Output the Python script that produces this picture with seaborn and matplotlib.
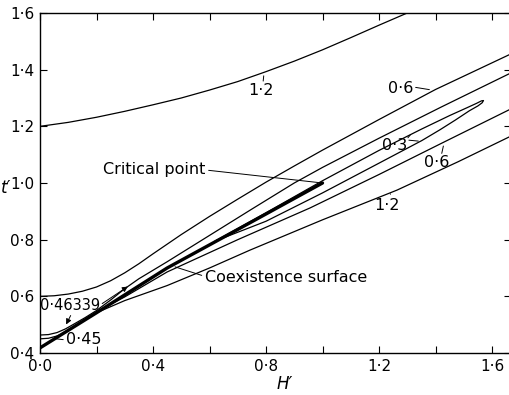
import numpy as np
import pandas as pd
import seaborn as sns
import matplotlib.pyplot as plt

# curves (H', t')
coex_h = [0.0, 0.1, 0.2, 0.45, 0.7, 1.0]
coex_t = [0.418, 0.48, 0.542, 0.70, 0.836, 1.0]

up12_h = [0.0, 0.1, 0.2, 0.3, 0.4, 0.5, 0.6, 0.7, 0.8, 0.9, 1.0, 1.1, 1.2, 1.3]
up12_t = [1.2, 1.214, 1.232, 1.253, 1.276, 1.3, 1.328, 1.358, 1.393, 1.43, 1.47, 1.513, 1.557, 1.6]

up06_h = [0.0, 0.05, 0.1, 0.15, 0.2, 0.25, 0.3, 0.35, 0.4, 0.5, 0.6, 0.7, 0.8, 0.9, 1.0, 1.2, 1.4, 1.67]
up06_t = [0.6, 0.602, 0.608, 0.618, 0.633, 0.655, 0.683, 0.715, 0.75, 0.818, 0.882, 0.943,
          1.003, 1.06, 1.116, 1.224, 1.33, 1.457]

c463_h = [0.0, 0.03, 0.06, 0.09, 0.12, 0.16, 0.2, 0.25, 0.3, 0.35, 0.45, 0.55, 0.65, 0.75,
          0.9, 1.0, 1.2, 1.42, 1.67]
c463_t = [0.4634, 0.465, 0.472, 0.485, 0.502, 0.525, 0.55, 0.587, 0.627, 0.662, 0.722, 0.784,
          0.846, 0.908, 1.0, 1.055, 1.158, 1.268, 1.39]

c045_h = [0.0, 0.03, 0.06, 0.09, 0.12]
c045_t = [0.45, 0.452, 0.46, 0.473, 0.492]

loop_h = [0.62, 0.8, 1.0, 1.2, 1.35, 1.45, 1.51, 1.545, 1.563, 1.57, 1.565, 1.55, 1.52,
          1.47, 1.416, 1.352, 1.2, 1.0, 0.8, 0.62]
loop_t = [0.795, 0.895, 1.008, 1.115, 1.19, 1.238, 1.265, 1.281, 1.29, 1.291, 1.283, 1.272,
          1.255, 1.222, 1.188, 1.15, 1.07, 0.965, 0.865, 0.795]

lo06_h = [0.2, 0.3, 0.45, 0.7, 0.956, 1.2, 1.423, 1.67]
lo06_t = [0.545, 0.598, 0.686, 0.80, 0.912, 1.03, 1.141, 1.263]

lo12_h = [0.2, 0.3, 0.45, 0.6, 0.743, 1.0, 1.264, 1.48, 1.67]
lo12_t = [0.542, 0.585, 0.638, 0.7, 0.763, 0.87, 0.975, 1.075, 1.167]

x_ticks = [0.0, 0.4, 0.8, 1.2, 1.6]
x_labels = ['0·0', '0·4', '0·8', '1·2', '1·6']
y_ticks = [0.4, 0.6, 0.8, 1.0, 1.2, 1.4, 1.6]
y_labels = ['0·4', '0·6', '0·8', '1·0', '1·2', '1·4', '1·6']

sns.set_style("ticks")
plt.rcParams['font.family'] = ['DejaVu Sans']
plt.rcParams['text.color'] = 'k'
plt.rcParams['xtick.color'] = 'k'
plt.rcParams['ytick.color'] = 'k'
plt.rcParams['axes.edgecolor'] = 'k'

fig = plt.figure(figsize=(5.09, 3.95), dpi=100)
ax = fig.add_axes([40 / 509, 1 - 353 / 395, 471 / 509, 340 / 395])

thin = [(up12_h, up12_t), (up06_h, up06_t), (c463_h, c463_t), (c045_h, c045_t),
        (loop_h, loop_t), (lo06_h, lo06_t), (lo12_h, lo12_t)]
for hh, tt in thin:
    sns.lineplot(x=hh, y=tt, sort=False, estimator=None, color='k', lw=0.9, ax=ax)
sns.lineplot(x=coex_h, y=coex_t, sort=False, estimator=None, color='k', lw=2.4, ax=ax)

ax.set_xlim(0, 471 / 282.5)
ax.set_ylim(0.4, 1.6)
ax.set_xticks(x_ticks)
ax.set_xticklabels(x_labels)
ax.set_xticks(np.arange(0.2, 1.61, 0.4), minor=True)
ax.set_yticks(y_ticks)
ax.set_yticklabels(y_labels)
ax.tick_params(which='both', direction='in', top=True, right=True, length=5, width=0.8,
               labelsize=11, pad=4, colors='k')
for s in ax.spines.values():
    s.set_linewidth(1.0)
ax.set_xlabel('')
ax.set_ylabel('')

ax.text(-0.072, 0.485, "t′", transform=ax.transAxes, fontsize=12, style='italic',
        ha='center', va='center')
ax.text(0.52, -0.092, "H′", transform=ax.transAxes, fontsize=12, style='italic',
        ha='center', va='center')

fs = 11.5
plain = dict(arrowstyle='-', color='k', lw=0.7)
head = dict(arrowstyle='-|>', color='k', lw=0.7, mutation_scale=8)

ax.annotate('Critical point', xy=(1.0, 1.0), xytext=(0.223, 1.046), fontsize=fs,
            ha='left', va='center', arrowprops=dict(plain, shrinkA=0, shrinkB=0,
                                                  relpos=(1.0, 0.5)))
ax.annotate('Coexistence surface', xy=(0.478, 0.704), xytext=(0.584, 0.665), fontsize=fs,
            ha='left', va='center', arrowprops=dict(plain, shrinkA=0, shrinkB=0,
                                                  relpos=(0.0, 0.6)))

ax.text(1.278, 1.335, '0·6', fontsize=fs, ha='center', va='center')
ax.annotate('', xy=(1.388, 1.328), xytext=(1.32, 1.339), arrowprops=plain)
ax.text(1.257, 1.134, '0·3', fontsize=fs, ha='center', va='center')
ax.annotate('', xy=(1.317, 1.177), xytext=(1.296, 1.152), arrowprops=plain)
ax.annotate('', xy=(1.349, 1.147), xytext=(1.296, 1.152), arrowprops=plain)
ax.text(1.405, 1.071, '0·6', fontsize=fs, ha='center', va='center')
ax.annotate('', xy=(1.43, 1.14), xytext=(1.42, 1.095), arrowprops=plain)
ax.text(0.782, 1.325, '1·2', fontsize=fs, ha='center', va='center')
ax.annotate('', xy=(0.793, 1.388), xytext=(0.789, 1.35), arrowprops=plain)
ax.text(1.228, 0.922, '1·2', fontsize=fs, ha='center', va='center')
ax.annotate('', xy=(1.246, 0.97), xytext=(1.235, 0.952), arrowprops=plain)

ax.text(0.106, 0.569, '0·46339', fontsize=10.5, ha='center', va='center')
ax.annotate('', xy=(0.088, 0.492), xytext=(0.113, 0.541), arrowprops=head)
ax.annotate('', xy=(0.319, 0.64), xytext=(0.212, 0.569), arrowprops=head)
ax.text(0.156, 0.446, '0·45', fontsize=fs, ha='center', va='center')
ax.annotate('', xy=(0.04, 0.452), xytext=(0.092, 0.446), arrowprops=plain)

fig.savefig('out.png', dpi=100)
